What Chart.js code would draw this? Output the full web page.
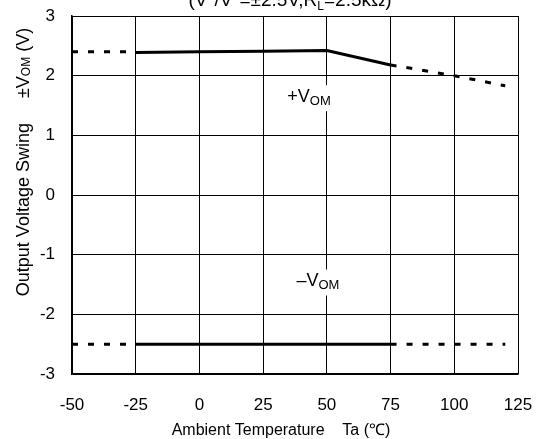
<!DOCTYPE html>
<html>
<head>
<meta charset="utf-8">
<script src="https://cdn.jsdelivr.net/npm/chart.js@4/dist/chart.umd.min.js"></script>
<style>
    html, body { margin: 0; padding: 0; background: #fff; }
    #wrap { width: 549px; height: 439px; }
</style>
</head>
<body>
<div id="wrap"><canvas id="chart"></canvas></div>
<script>
// Ambient temperature (°C) / output voltage swing (V)
const xTicks = [-50, -25, 0, 25, 50, 75, 100, 125];
const yTicks = [-3, -2, -1, 0, 1, 2, 3];

// +VOM
const posSolidT = [-25, 0, 25, 50, 75];
const posSolidV = [2.39, 2.40, 2.41, 2.42, 2.18];
const posDashLeftT = [-50, -25];
const posDashLeftV = [2.40, 2.40];
const posDashRightT = [75, 100, 120];
const posDashRightV = [2.18, 2.00, 1.83];

// -VOM
const negSolidT = [-25, 75];
const negSolidV = [-2.5, -2.5];
const negDashLeftT = [-50, -25];
const negDashLeftV = [-2.5, -2.5];
const negDashRightT = [75, 120];
const negDashRightV = [-2.5, -2.5];

const FONT = '"Liberation Sans", Arial, sans-serif';

const pts = (xs, ys) => xs.map((x, i) => ({ x, y: ys[i] }));
const solid = (xs, ys) => ({
    data: pts(xs, ys), borderColor: '#000', borderWidth: 3,
    pointRadius: 0, tension: 0, fill: false
});
const dashed = (xs, ys) => ({
    data: pts(xs, ys), borderColor: '#000', borderWidth: 3, borderDash: [6, 10],
    pointRadius: 0, tension: 0, fill: false
});

// draws a run of [text, size, dy] pieces, centred on cx
function drawParts(ctx, parts, cx, cy) {
    let total = 0;
    parts.forEach(([t, s]) => { ctx.font = `${s}px ${FONT}`; total += ctx.measureText(t).width; });
    let x = cx - total / 2;
    ctx.textAlign = 'left';
    parts.forEach(([t, s, dy]) => {
        ctx.font = `${s}px ${FONT}`;
        ctx.fillText(t, x, cy + dy);
        x += ctx.measureText(t).width;
    });
}

const annotations = {
    id: 'annotations',
    afterDatasetsDraw(chart) {
        const { ctx, scales } = chart;
        ctx.save();
        ctx.fillStyle = '#000';
        ctx.textBaseline = 'middle';

        // in-plot labels with white backing
        const labels = [['+', 43, 1.64], ['\u2013', 46.5, -1.45]];
        labels.forEach(([p, t, v]) => {
            const cx = scales.x.getPixelForValue(t);
            const cy = scales.y.getPixelForValue(v);
            ctx.fillStyle = '#fff';
            ctx.fillRect(cx - 24, cy - 12, 48, 26);
            ctx.fillStyle = '#000';
            drawParts(ctx, [[p + 'V', 18, 0], ['OM', 13, 4]], cx, cy);
        });

        // top condition line (cut off at the edge)
        ctx.textBaseline = 'alphabetic';
        drawParts(ctx, [
            ['(V', 19, 0], ['+', 12, -8], ['/V', 19, 0], ['\u2212', 12, -8],
            ['=\u00B12.5V,R', 19, 0], ['L', 12, 4], ['=2.5k\u03A9)', 19, 0]
        ], 290, 6);

        // x title
        ctx.textBaseline = 'middle';
        drawParts(ctx, [['Ambient Temperature    Ta (\u2103)', 16, 0]], 281, 431);

        // y title, rotated
        ctx.translate(24, 162);
        ctx.rotate(-Math.PI / 2);
        drawParts(ctx, [
            ['Output Voltage Swing     \u00B1V', 18, 0], ['OM', 12, 3], [' (V)', 18, 0]
        ], 0, 0);
        ctx.restore();
    }
};

new Chart(document.getElementById('chart'), {
    type: 'line',
    data: {
        datasets: [
            solid(posSolidT, posSolidV),
            dashed(posDashLeftT, posDashLeftV),
            dashed(posDashRightT, posDashRightV),
            solid(negSolidT, negSolidV),
            dashed(negDashLeftT, negDashLeftV),
            dashed(negDashRightT, negDashRightV)
        ]
    },
    options: {
        responsive: true,
        maintainAspectRatio: false,
        animation: false,
        devicePixelRatio: 1,
        layout: { padding: { left: 0, right: 31, top: 16, bottom: 0 } },
        plugins: { legend: { display: false }, tooltip: { enabled: false } },
        scales: {
            x: {
                type: 'linear',
                min: xTicks[0],
                max: xTicks[xTicks.length - 1],
                afterBuildTicks: (s) => { s.ticks = xTicks.map(v => ({ value: v })); },
                afterFit: (s) => { s.height = 65; s.paddingLeft = 0; s.paddingRight = 0; },
                grid: { color: '#000', lineWidth: 1, drawTicks: false },
                border: { color: '#000', width: 1.5 },
                ticks: { color: '#000', font: { family: FONT, size: 17 }, padding: 21, maxRotation: 0 }
            },
            y: {
                min: yTicks[0],
                max: yTicks[yTicks.length - 1],
                afterBuildTicks: (s) => { s.ticks = yTicks.map(v => ({ value: v })); },
                afterFit: (s) => { s.width = 72; s.paddingTop = 0; s.paddingBottom = 0; },
                grid: { color: '#000', lineWidth: 1, drawTicks: false },
                border: { color: '#000', width: 1.5 },
                ticks: { color: '#000', font: { family: FONT, size: 17 }, padding: 17 }
            }
        }
    },
    plugins: [annotations]
});
</script>
</body>
</html>
